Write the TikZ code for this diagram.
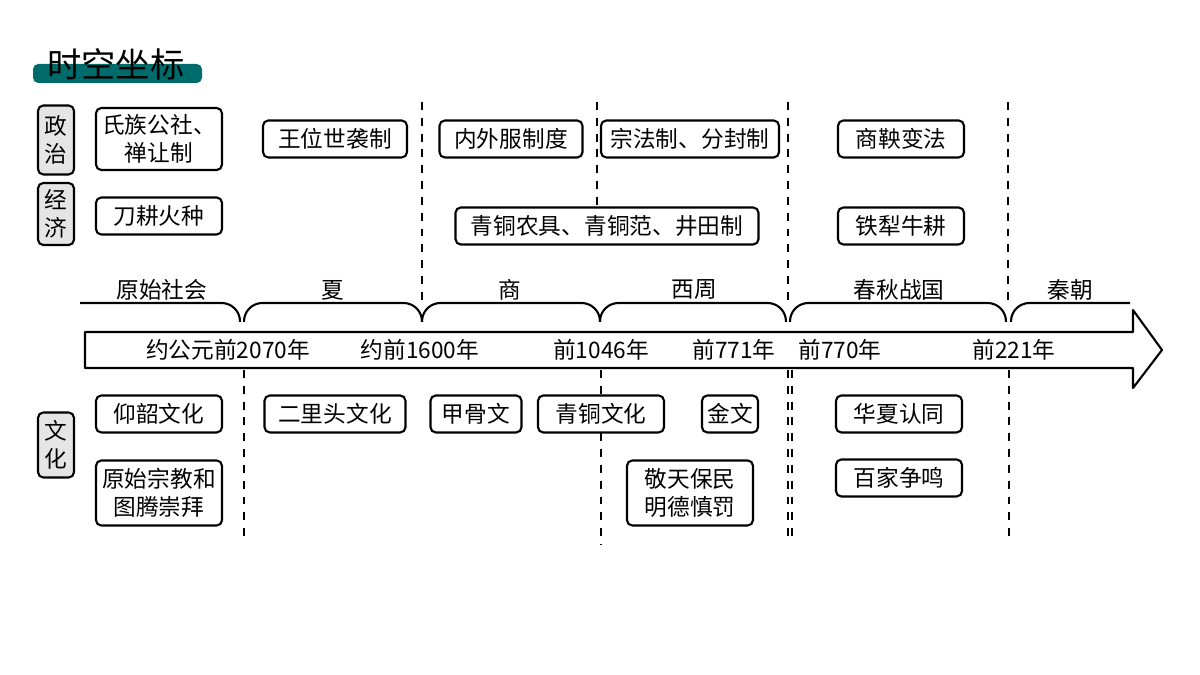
\documentclass[tikz,border=0pt]{standalone}
\usepackage{fontspec}
\setmainfont{Noto Sans CJK SC}
\begin{document}
\begin{tikzpicture}[x=1cm/75,y=-1cm/75,line join=round,font=\fontsize{8.6}{10.5}\selectfont,
  box/.style={draw,rounded corners=2pt,thick,inner sep=1pt,align=center},
  cat/.style={draw,rounded corners=2pt,thick,fill=gray!20,inner sep=0pt,minimum width=36/75*1cm,align=center},
  sep/.style={dashed,thin},
  brc/.style={rounded corners=7pt,thick},
  declare function={h=37;}]
\useasboundingbox (0,0) rectangle (1200,675);
% title
\fill[teal!80!cyan!70!black,rounded corners=2pt] (33,64) rectangle (202,83);
\node[font=\fontsize{13}{14}\selectfont] (title) at (116,64) {时空坐标};
% categories
\node[cat,minimum height=69/75*1cm] (zz) at (56,140) {政\\治};
\node[cat,minimum height=62/75*1cm] (jj) at (56,214) {经\\济};
\node[cat,minimum height=65/75*1cm] (wh) at (56,445) {文\\化};
% separators
\foreach \x/\a/\b in {422/102/300,597/102/205,788/102/300,1008/102/300,
  244/370/543,601/370/545,788/370/543,792/370/543,1009/370/543}
  \draw[sep] (\x,\a) -- (\x,\b);
% boxes top
\node[box,minimum width=126/75*1cm,minimum height=62/75*1cm] (p1) at (159,139) {氏族公社、\\禅让制};
\node[box,minimum width=144/75*1cm,minimum height=h/75*1cm] (p2) at (335,139) {王位世袭制};
\node[box,minimum width=143/75*1cm,minimum height=h/75*1cm] (p3) at (511,139) {内外服制度};
\node[box,minimum width=178/75*1cm,minimum height=h/75*1cm] (p4) at (690,139) {宗法制、分封制};
\node[box,minimum width=126/75*1cm,minimum height=h/75*1cm] (p5) at (901,139) {商鞅变法};
\node[box,fill=white,minimum width=126/75*1cm,minimum height=h/75*1cm] (e1) at (159,216) {刀耕火种};
\node[box,fill=white,minimum width=303/75*1cm,minimum height=h/75*1cm] (e2) at (607,226) {青铜农具、青铜范、井田制};
\node[box,minimum width=126/75*1cm,minimum height=h/75*1cm] (e3) at (901,226) {铁犁牛耕};
% eras
\foreach \t/\x in {原始社会/162,夏/333,商/510,西周/694,春秋战国/899,秦朝/1070}
  \node (era\x) at (\x,290) {\t};
\draw[brc] (80,303) -- (240,303) -- (240,322);
\foreach \a/\b in {248/418,426/596,604/782,794/1002}
  \draw[brc] (\a-4,322) -- (\a-4,303) -- (\b+4,303) -- (\b+4,322);
\draw[brc] (1011,322) -- (1011,303) -- (1130,303);
% arrow
\draw[thick,fill=white] (85,332) -- (1133,332) -- (1133,310) -- (1162,350) -- (1133,388) -- (1133,368) -- (85,368) -- cycle;
\foreach \t/\x in {约公元前2070年/228,约前1600年/420,前1046年/601,前771年/734,前770年/840,前221年/1014}
  \node (d\x) at (\x,350) {\t};
% boxes bottom
\node[box,minimum width=126/75*1cm,minimum height=h/75*1cm] (c1) at (159,414) {仰韶文化};
\node[box,minimum width=141/75*1cm,minimum height=h/75*1cm] (c2) at (335,414) {二里头文化};
\node[box,minimum width=91/75*1cm,minimum height=h/75*1cm] (c3) at (476,414) {甲骨文};
\node[box,fill=white,minimum width=126/75*1cm,minimum height=h/75*1cm] (c4) at (601,414) {青铜文化};
\node[box,minimum width=56/75*1cm,minimum height=h/75*1cm] (c5) at (730,414) {金文};
\node[box,minimum width=126/75*1cm,minimum height=h/75*1cm] (c6) at (899,414) {华夏认同};
\node[box,minimum width=126/75*1cm,minimum height=65/75*1cm] (c7) at (159,493) {原始宗教和\\图腾崇拜};
\node[box,minimum width=126/75*1cm,minimum height=65/75*1cm] (c8) at (690,493) {敬天保民\\明德慎罚};
\node[box,minimum width=126/75*1cm,minimum height=h/75*1cm] (c9) at (899,478) {百家争鸣};
\end{tikzpicture}
\end{document}
